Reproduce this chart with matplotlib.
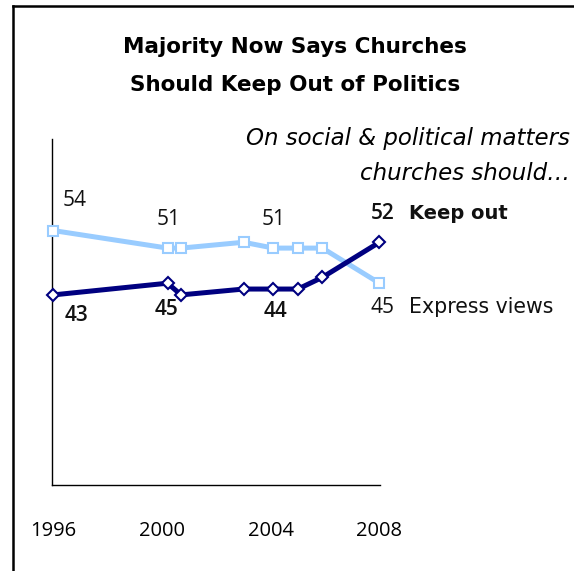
import matplotlib.pyplot as plt
from matplotlib.lines import Line2D

# survey dates (fractional years) and share saying churches should...
years = [1996.0, 2000.2, 2000.7, 2003.0, 2004.1, 2005.0, 2005.9, 2008.0]
keep_out = [43, 45, 43, 44, 44, 44, 46, 52]
express_views = [54, 51, 51, 52, 51, 51, 51, 45]
tick_years = [1996, 2000, 2004, 2008]

NAVY = '#000080'
LIGHT = '#99CCFF'
W, H = 574, 571
NUM_FONT = ['Open Sans', 'DejaVu Sans']
WORD_FONT = ['DejaVu Sans']

plt.rcParams['font.family'] = NUM_FONT

fig = plt.figure(figsize=(W / 100, H / 100), dpi=100)
ax = fig.add_axes([52.3 / W, 1 - 485 / H, 327.7 / W, 345.7 / H])

ax.plot(years, express_views, color=LIGHT, lw=3.6, marker='s', ms=6.5,
        mfc='white', mec=LIGHT, mew=1.5, clip_on=False, zorder=3)
ax.plot(years, keep_out, color=NAVY, lw=3.6, marker='D', ms=6.5,
        mfc='white', mec=NAVY, mew=1.5, clip_on=False, zorder=4)

ax.set_xlim(1995.96, 2008.02)
ax.set_ylim(10.5, 69.6)
for side in ['top', 'right']:
    ax.spines[side].set_visible(False)
for side in ['left', 'bottom']:
    ax.spines[side].set_linewidth(1.0)
ax.set_yticks([])
ax.set_xticks(tick_years)
ax.set_xticklabels([str(y) for y in tick_years], fontsize=14.5)
ax.tick_params(axis='x', length=0, pad=26)


def label(x, y, text, dx, dy, bold=False, ha='center', family=NUM_FONT, size=15):
    ax.annotate(text, (x, y), xytext=(dx, dy), textcoords='offset pixels',
                ha=ha, va='center', fontsize=size, family=family,
                fontweight=('bold' if family == WORD_FONT else 'semibold') if bold else 'normal',
                color='#111111')


# value labels
label(years[0], express_views[0], '54', 21, 30)
label(years[1], express_views[1], '51', 1, 29)
label(years[4], express_views[4], '51', 0, 28.5)
label(years[-1], express_views[-1], '45', 3, -24)
label(years[0], keep_out[0], '43', 23, -21, bold=True)
label(years[1], keep_out[1], '45', -1, -26, bold=True)
label(years[4], keep_out[4], '44', 2, -22, bold=True)
label(years[-1], keep_out[-1], '52', 3, 28.6, bold=True)

# series names next to the last points
label(years[-1], keep_out[-1], 'Keep out', 30, 28.6, bold=True, ha='left',
      family=WORD_FONT, size=14)
label(years[-1], express_views[-1], 'Express views', 30, -24, ha='left',
      family=WORD_FONT, size=14.8)

fig.text(295 / W, 1 - 47 / H, 'Majority Now Says Churches', ha='center',
         va='center', fontsize=15.5, fontweight='bold', family=WORD_FONT)
fig.text(295 / W, 1 - 85 / H, 'Should Keep Out of Politics', ha='center',
         va='center', fontsize=15.5, fontweight='bold', family=WORD_FONT)
fig.text(570 / W, 1 - 138 / H, 'On social & political matters', ha='right',
         va='center', fontsize=16.5, style='italic', family=WORD_FONT)
fig.text(570 / W, 1 - 174 / H, 'churches should\u2026', ha='right',
         va='center', fontsize=16.5, style='italic', family=WORD_FONT)

# frame along the left and top edges
fig.add_artist(Line2D([13 / W, 13 / W], [0, 1 - 6 / H], transform=fig.transFigure,
                      color='black', lw=1.8))
fig.add_artist(Line2D([13 / W, 1], [1 - 6 / H, 1 - 6 / H], transform=fig.transFigure,
                      color='black', lw=1.8))

fig.savefig('out.png', dpi=100, facecolor='white')
